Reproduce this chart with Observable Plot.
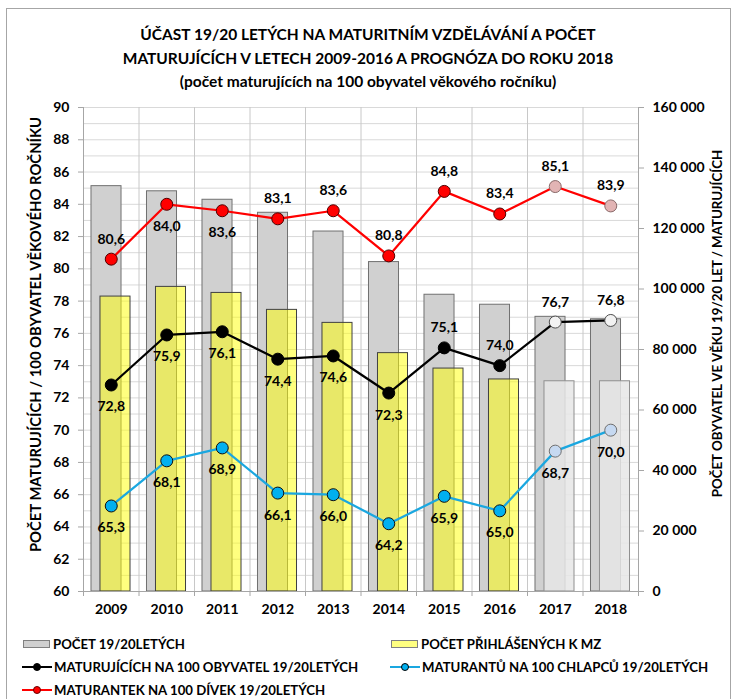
<!DOCTYPE html>
<html><head><meta charset="utf-8">
<script src="https://cdn.jsdelivr.net/npm/d3@7"></script>
<script src="https://cdn.jsdelivr.net/npm/@observablehq/plot@0.6"></script>
<style>
body{margin:0;background:#fff;font-family:Lato,"Open Sans",sans-serif;color:#000;}
#frame{position:absolute;left:6px;top:8px;width:725px;height:720px;border:1px solid #a6a6a6;box-sizing:border-box;}
#title{position:absolute;left:0;top:23px;width:736px;text-align:center;font-weight:bold;font-size:15.5px;line-height:23.5px;}
#chart{position:absolute;left:0;top:97px;}
.item{position:absolute;display:flex;align-items:center;white-space:nowrap;font-size:13.2px;font-weight:bold;height:16px;}
.sw{display:inline-block;width:27px;height:8px;box-sizing:border-box;margin-right:3px;}
.ln{position:relative;display:inline-block;width:30px;height:12px;margin-right:2px;}
.ln i{position:absolute;left:0;right:0;top:5px;height:2px;}
.ln b{position:absolute;left:11px;top:2px;width:8px;height:8px;border-radius:50%;box-sizing:border-box;border:1px solid #000;}
</style></head><body>
<div id="frame"></div>
<div id="title">ÚČAST 19/20 LETÝCH NA MATURITNÍM VZDĚLÁVÁNÍ A POČET<br>MATURUJÍCÍCH V LETECH 2009-2016 A PROGNÓZA DO ROKU 2018<br>(počet maturujících na 100 obyvatel věkového ročníku)</div>
<div id="chart"></div>
<div id="legend">
  <div class="item" style="left:23px;top:636px"><span class="sw" style="background:#d0d0d0;border:1px solid #808080"></span>POČET 19/20LETÝCH</div>
  <div class="item" style="left:391px;top:636px"><span class="sw" style="background:#ffff80;border:1px solid #808080"></span>POČET PŘIHLÁŠENÝCH K MZ</div>
  <div class="item" style="left:22px;top:659px"><span class="ln"><i style="background:#000"></i><b style="background:#000"></b></span>MATURUJÍCÍCH NA 100 OBYVATEL 19/20LETÝCH</div>
  <div class="item" style="left:390px;top:659px"><span class="ln"><i style="background:#1aa7e0"></i><b style="background:#00b0f0"></b></span>MATURANTŮ NA 100 CHLAPCŮ 19/20LETÝCH</div>
  <div class="item" style="left:22px;top:682px"><span class="ln"><i style="background:#ff0000"></i><b style="background:#ff0000;border-color:#600"></b></span>MATURANTEK NA 100 DÍVEK 19/20LETÝCH</div>
</div>
<script>
// ---- data ----
const years = [2009, 2010, 2011, 2012, 2013, 2014, 2015, 2016, 2017, 2018];
const population = [134000, 132300, 129500, 125200, 119000, 108900, 98100, 94800, 90800, 90000];
const registered = [97500, 100700, 98700, 93100, 88800, 78800, 73700, 70100, 69500, 69500];
const total = [72.8, 75.9, 76.1, 74.4, 74.6, 72.3, 75.1, 74.0, 76.7, 76.8];
const boys = [65.3, 68.1, 68.9, 66.1, 66.0, 64.2, 65.9, 65.0, 68.7, 70.0];
const girls = [80.6, 84.0, 83.6, 83.1, 83.6, 80.8, 84.8, 83.4, 85.1, 83.9];
const leftTicks = [60, 62, 64, 66, 68, 70, 72, 74, 76, 78, 80, 82, 84, 86, 88, 90];
const rightTicks = [0, 20000, 40000, 60000, 80000, 100000, 120000, 140000, 160000];
const firstForecastYear = 2017;
const totalLabelAboveYears = [2015, 2016, 2017, 2018];
const girlsLabelBelowYears = [2010, 2011];
const leftTitle = "POČET MATURUJÍCÍCH / 100 OBYVATEL VĚKOVÉHO ROČNÍKU";
const rightTitle = "POČET OBYVATEL VE VĚKU 19/20 LET / MATURUJÍCÍCH";

// ---- helpers ----
const LMIN = 60, LMAX = 90, RMAX = 160000;
const toLeft = v => LMIN + v / RMAX * (LMAX - LMIN);
const fromLeft = d => Math.round((d - LMIN) / (LMAX - LMIN) * RMAX);
const thousands = v => d3.format(",")(v).replace(/,/g, " ");
const dec = v => v.toFixed(1).replace(".", ",");
const rows = years.map((year, i) => ({year, population: population[i], registered: registered[i], total: total[i], boys: boys[i], girls: girls[i], forecast: year >= firstForecastYear}));
const actual = rows.filter(d => !d.forecast);
const forecast = rows.filter(d => d.forecast);
const boundaries = d3.range(years[0] - 0.5, years[years.length - 1] + 1, 1);
const gridLevels = d3.range(LMIN, LMAX + 1, 1);

const popBar = (data, o) => Plot.rectY(data, {x1: d => d.year - 0.5 + 0.144, x2: d => d.year - 0.5 + 0.685, y1: LMIN, y2: d => toLeft(d.population), ...o});
const regBar = (data, o) => Plot.rectY(data, {x1: d => d.year - 0.5 + 0.306, x2: d => d.year - 0.5 + 0.847, y1: LMIN, y2: d => toLeft(d.registered), ...o});
const labels = (data, key, dy) => Plot.text(data, {x: "year", y: key, text: d => dec(d[key]), dy, fontSize: 14, fontWeight: "bold", fill: "#000", lineAnchor: "middle", ariaLabel: "data-label"});

const chart = Plot.plot({
  width: 736, height: 530,
  marginLeft: 83, marginRight: 98, marginTop: 10, marginBottom: 36,
  style: {fontFamily: "Lato, 'Open Sans', sans-serif", fontSize: "14px", fontWeight: "bold", background: "transparent", overflow: "visible"},
  x: {type: "linear", domain: [years[0] - 0.5, years[years.length - 1] + 0.5]},
  y: {domain: [LMIN, LMAX]},
  marks: [
    Plot.ruleY(gridLevels, {stroke: "#d9d9d9", strokeWidth: 1}),
    Plot.ruleX(boundaries, {stroke: "#c8c8c8", strokeWidth: 1}),
    popBar(rows, {fill: "#d0d0d0", stroke: "#707070", strokeWidth: 1}),
    regBar(actual, {fill: "#ffff00", fillOpacity: 0.5, stroke: "#404040", strokeWidth: 1}),
    regBar(forecast, {fill: "#e6e6e6", fillOpacity: 0.85, stroke: "#909090", strokeWidth: 1}),
    Plot.ruleX([boundaries[0], boundaries[boundaries.length - 1]], {stroke: "#a6a6a6"}),
    Plot.ruleY([LMIN], {stroke: "#a6a6a6"}),
    Plot.axisY(leftTicks, {anchor: "left", tickSize: 5, tickPadding: 9, stroke: "#a6a6a6", label: null, fontSize: 14, fontWeight: "bold"}),
    Plot.axisY(rightTicks.map(toLeft), {anchor: "right", tickSize: 5, tickPadding: 9, stroke: "#a6a6a6", label: null, tickFormat: d => thousands(fromLeft(d)), fontSize: 14, fontWeight: "bold"}),
    Plot.axisX(years, {anchor: "bottom", tickSize: 0, tickPadding: 13, label: null, tickFormat: d => String(d), fontSize: 14, fontWeight: "bold"}),
    Plot.axisX(boundaries, {anchor: "bottom", tickSize: 5, stroke: "#a6a6a6", label: null, tickFormat: () => ""}),
    Plot.text([leftTitle], {text: d => d, frameAnchor: "left", textAnchor: "middle", lineAnchor: "middle", rotate: -90, dx: -47, dy: -15, fontSize: 14.8, fontWeight: "bold"}),
    Plot.text([rightTitle], {text: d => d, frameAnchor: "right", textAnchor: "middle", lineAnchor: "middle", rotate: -90, dx: 79, dy: -26, fontSize: 13.3, fontWeight: "bold"}),
    // lines
    Plot.line(rows, {x: "year", y: "girls", stroke: "#ff0000", strokeWidth: 2.25}),
    Plot.line(rows, {x: "year", y: "total", stroke: "#000000", strokeWidth: 2.25}),
    Plot.line(rows, {x: "year", y: "boys", stroke: "#1aa7e0", strokeWidth: 2.25}),
    // dots
    Plot.dot(actual, {x: "year", y: "girls", r: 6, fill: "#ff0000", stroke: "#500000", strokeWidth: 1}),
    Plot.dot(forecast, {x: "year", y: "girls", r: 6, fill: "#e2b4b4", stroke: "#8a6a6a", strokeWidth: 1}),
    Plot.dot(actual, {x: "year", y: "total", r: 6, fill: "#000000", stroke: "#000000", strokeWidth: 1}),
    Plot.dot(forecast, {x: "year", y: "total", r: 6, fill: "#f2f2f2", stroke: "#505050", strokeWidth: 1}),
    Plot.dot(actual, {x: "year", y: "boys", r: 6, fill: "#00b0f0", stroke: "#101010", strokeWidth: 1}),
    Plot.dot(forecast, {x: "year", y: "boys", r: 6, fill: "#c6d9f1", stroke: "#707070", strokeWidth: 1}),
    // value labels
    labels(rows.filter(d => girlsLabelBelowYears.includes(d.year)), "girls", 22),
    labels(rows.filter(d => !girlsLabelBelowYears.includes(d.year)), "girls", -20),
    labels(rows.filter(d => totalLabelAboveYears.includes(d.year)), "total", -20),
    labels(rows.filter(d => !totalLabelAboveYears.includes(d.year)), "total", 22),
    labels(rows, "boys", 22)
  ]
});
document.getElementById("chart").appendChild(chart);

// white boxes behind value labels
chart.querySelectorAll('g[aria-label="data-label"] text').forEach(t => {
  const b = t.getBBox();
  const r = document.createElementNS("http://www.w3.org/2000/svg", "rect");
  r.setAttribute("x", b.x - 3);
  r.setAttribute("y", b.y);
  r.setAttribute("width", b.width + 6);
  r.setAttribute("height", b.height + 1);
  r.setAttribute("fill", "#fff");
  if (t.getAttribute("transform")) r.setAttribute("transform", t.getAttribute("transform"));
  t.parentNode.insertBefore(r, t);
});
</script>
</body></html>
